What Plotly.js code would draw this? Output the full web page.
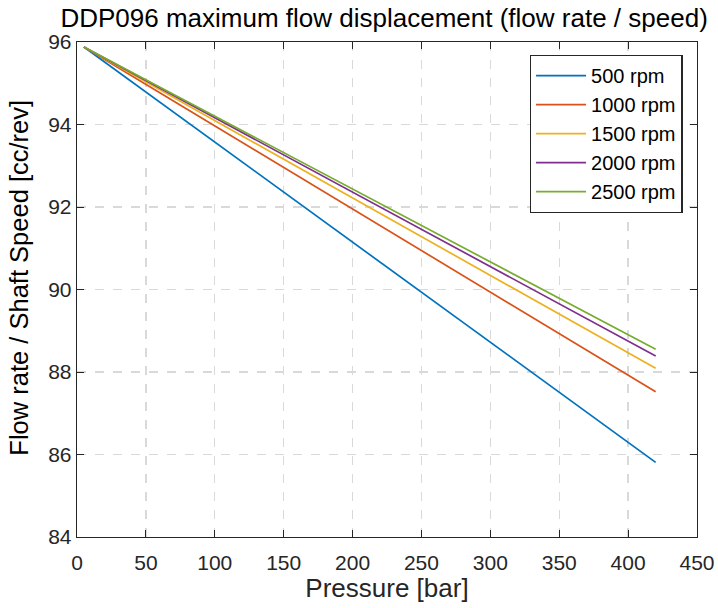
<!DOCTYPE html>
<html><head><meta charset="utf-8">
<script src="https://cdn.plot.ly/plotly-3.0.1.min.js"></script>
<style>html,body{margin:0;padding:0;background:#fff}#c{width:718px;height:608px}</style>
</head><body><div id="c"></div>
<script>
const seriesNames = ["500 rpm","1000 rpm","1500 rpm","2000 rpm","2500 rpm"];
const pressure = [5, 420];
const disp500  = [95.88, 85.81];
const disp1000 = [95.88, 87.52];
const disp1500 = [95.88, 88.09];
const disp2000 = [95.88, 88.39];
const disp2500 = [95.88, 88.55];
const xTicks = [0,50,100,150,200,250,300,350,400,450];
const yTicks = [84,86,88,90,92,94,96];
const colors = ["#0072BD","#D95319","#EDB120","#7E2F8E","#77AC30"];
const ys = [disp500, disp1000, disp1500, disp2000, disp2500];

const traces = ys.map((y,i)=>({x:pressure, y:y, type:'scatter', mode:'lines', name:seriesNames[i], line:{color:colors[i], width:1.7}}));
traces.push({x:[0],y:[84],xaxis:'x2',yaxis:'y2',mode:'markers',marker:{opacity:0},showlegend:false,hoverinfo:'skip'});

const ff = '"Liberation Sans", Arial, Helvetica, sans-serif';
const layout = {
  width:718, height:608,
  margin:{l:77, r:21, t:42, b:71},
  paper_bgcolor:'#fff', plot_bgcolor:'#fff',
  font:{family:ff, color:'#262626'},
  title:{text:'DDP096 maximum flow displacement (flow rate / speed)', font:{size:26, color:'#000', family:ff}, x:0.535, xanchor:'center', y:0.97, yanchor:'middle'},
  xaxis:{range:[0,450], tickvals:xTicks, ticktext:xTicks.map(String), showgrid:true, gridcolor:'#d9d9d9', griddash:'dash', gridwidth:1.3,
    zeroline:false, showline:true, linecolor:'#262626', linewidth:1.3, ticks:'inside', ticklen:7, tickcolor:'#262626', ticklabelstandoff:6,
    tickfont:{size:21, color:'#262626'}, title:{text:'Pressure [bar]', font:{size:26, color:'#262626'}, standoff:4}},
  yaxis:{range:[84,96], tickvals:yTicks, ticktext:yTicks.map(String), showgrid:true, gridcolor:'#d9d9d9', griddash:'dash', gridwidth:1.3,
    zeroline:false, showline:true, linecolor:'#262626', linewidth:1.3, ticks:'inside', ticklen:7, tickcolor:'#262626',
    tickfont:{size:21, color:'#262626'}},
  xaxis2:{range:[0,450], overlaying:'x', side:'top', tickvals:xTicks, showticklabels:false, showgrid:false, zeroline:false,
    showline:true, linecolor:'#262626', linewidth:1.3, ticks:'inside', ticklen:7, tickcolor:'#262626'},
  yaxis2:{range:[84,96], overlaying:'y', side:'right', tickvals:yTicks, showticklabels:false, showgrid:false, zeroline:false,
    showline:true, linecolor:'#262626', linewidth:1.3, ticks:'inside', ticklen:7, tickcolor:'#262626'},
  annotations:[{text:'Flow rate / Shaft Speed [cc/rev]', textangle:-90, xref:'paper', yref:'paper', x:-0.0935, y:0.524,
    xanchor:'center', yanchor:'middle', showarrow:false, font:{size:25.5, color:'#000', family:ff}}],
  legend:{x:0.977, xanchor:'right', y:0.974, yanchor:'top', bgcolor:'#fff', bordercolor:'#262626', borderwidth:1.3,
    font:{size:20, color:'#000'}, tracegroupgap:0, itemwidth:50},
  showlegend:true
};
Plotly.newPlot('c', traces, layout, {displayModeBar:false, staticPlot:true});
</script></body></html>
